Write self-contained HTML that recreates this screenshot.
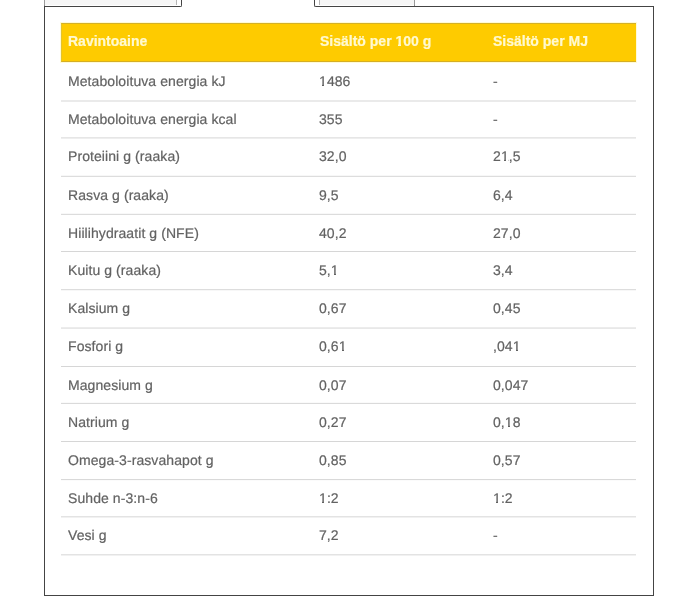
<!DOCTYPE html>
<html><head><meta charset="utf-8">
<style>
html,body{margin:0;padding:0;background:#fff;width:696px;height:600px;overflow:hidden;}
body{position:relative;font-family:"Liberation Sans",sans-serif;}
.abs{position:absolute;}
.panel{position:absolute;left:44px;top:6px;width:610px;height:590px;border:1px solid #444;box-sizing:border-box;background:#fff;border-top:none;}
.tabA{position:absolute;left:44px;top:0;width:138px;height:7px;background:#fff;border-right:1px solid #444;border-bottom:1px solid #444;box-sizing:border-box;border-bottom-right-radius:2px;}
.tabA .f{position:absolute;left:0;top:0;width:133px;height:5px;background:#f6f6f6;border-left:1px solid #9a9a9a;border-right:1px solid #b5b5b5;box-sizing:border-box;}
.gap{position:absolute;left:181px;top:0;width:134px;height:8px;background:#fff;}
.tabC{position:absolute;left:314px;top:0;width:101px;height:7px;background:#fff;border-left:1px solid #444;border-bottom:1px solid #444;box-sizing:border-box;border-bottom-left-radius:2px;}
.tabC .f{position:absolute;left:4px;top:0;width:96px;height:5px;background:#f6f6f6;border-left:1px solid #b5b5b5;border-right:1px solid #9a9a9a;box-sizing:border-box;}
.topln{position:absolute;top:6px;height:1px;background:#444;}
.hdr{position:absolute;left:61px;top:23px;width:575px;height:39px;background:#fecb00;border-top:1px solid #d3b02a;border-bottom:1px solid #d6ae24;border-left:1px solid #e4c22e;box-sizing:border-box;box-shadow:0 0 0 1px #fffbd6;}
.hdr span{margin-top:-1px;will-change:transform;-webkit-text-stroke:0.2px #fff9d0;}
.hdr span{position:absolute;top:0;line-height:37px;font-size:14px;font-weight:bold;color:#fff9d0;}
.ln{position:absolute;left:61px;width:575px;height:1px;background:#dedede;}
.tx{position:absolute;left:61px;width:575px;height:20px;will-change:transform;text-rendering:geometricPrecision;-webkit-text-stroke:0.2px #626262;}
.tx span{position:absolute;top:0;line-height:20px;font-size:14px;color:#626262;white-space:nowrap;letter-spacing:0.08px;}
.one{font-style:normal;position:relative;display:inline-block;}
.one::before,.one::after{content:'';position:absolute;top:13px;height:2px;background:#fff;}
.one::before{left:0;width:3px}.one::after{left:5px;width:2.6px}
.oneh{font-style:normal;position:relative;display:inline-block;}
.oneh::before,.oneh::after{content:'';position:absolute;top:21px;height:3px;background:#fecb00;}
.oneh::before{left:0;width:3px}.oneh::after{left:6px;width:3px}
.c1{left:7px}.c2{left:258px}.c3{left:432px}
</style></head><body>
<div class="panel"></div>
<div class="tabA"><div class="f"></div></div>
<div class="tabC"><div class="f"></div></div>
<div class="topln" style="left:316px;width:337px"></div>
<div class="abs" style="left:44px;top:5px;width:1px;height:1px;background:#8a8a8a"></div>
<div class="abs" style="left:414px;top:5px;width:1px;height:1px;background:#8a8a8a"></div>
<div class="hdr"><span class="c1" style="margin-left:-1px">Ravintoaine</span><span class="c2">Sisältö per <i class="oneh">1</i>00 g</span><span class="c3" style="margin-left:-1px">Sisältö per MJ</span></div>
<div class="ln" style="top:100px;background:rgb(234,234,234)"></div>
<div class="ln" style="top:101px;background:rgb(234,234,234)"></div>
<div class="tx" style="top:71px"><span class="c1">Metaboloituva energia kJ</span><span class="c2"><i class="one">1</i>486</span><span class="c3">-</span></div>
<div class="ln" style="top:137px;background:rgb(230,230,230)"></div>
<div class="ln" style="top:138px;background:rgb(238,238,238)"></div>
<div class="tx" style="top:109px"><span class="c1">Metaboloituva energia kcal</span><span class="c2">355</span><span class="c3">-</span></div>
<div class="ln" style="top:175px;background:rgb(247,247,247)"></div>
<div class="ln" style="top:176px;background:rgb(221,221,221)"></div>
<div class="tx" style="top:146px"><span class="c1">Proteiini g (raaka)</span><span class="c2">32,0</span><span class="c3">2<i class="one">1</i>,5</span></div>
<div class="ln" style="top:213px;background:rgb(248,248,248)"></div>
<div class="ln" style="top:214px;background:rgb(220,220,220)"></div>
<div class="tx" style="top:185px"><span class="c1">Rasva g (raaka)</span><span class="c2">9,5</span><span class="c3">6,4</span></div>
<div class="ln" style="top:251px;background:rgb(214,214,214)"></div>
<div class="tx" style="top:223px"><span class="c1">Hiilihydraatit g (NFE)</span><span class="c2">40,2</span><span class="c3">27,0</span></div>
<div class="ln" style="top:289px;background:rgb(221,221,221)"></div>
<div class="ln" style="top:290px;background:rgb(247,247,247)"></div>
<div class="tx" style="top:260px"><span class="c1">Kuitu g (raaka)</span><span class="c2">5,<i class="one">1</i></span><span class="c3">3,4</span></div>
<div class="ln" style="top:327px;background:rgb(236,236,236)"></div>
<div class="ln" style="top:328px;background:rgb(232,232,232)"></div>
<div class="tx" style="top:298px"><span class="c1">Kalsium g</span><span class="c2">0,67</span><span class="c3">0,45</span></div>
<div class="ln" style="top:366px;background:rgb(214,214,214)"></div>
<div class="tx" style="top:336px"><span class="c1">Fosfori g</span><span class="c2">0,6<i class="one">1</i></span><span class="c3">,04<i class="one">1</i></span></div>
<div class="ln" style="top:402px;background:rgb(250,250,250)"></div>
<div class="ln" style="top:403px;background:rgb(218,218,218)"></div>
<div class="tx" style="top:375px"><span class="c1">Magnesium g</span><span class="c2">0,07</span><span class="c3">0,047</span></div>
<div class="ln" style="top:441px;background:rgb(214,214,214)"></div>
<div class="tx" style="top:412px"><span class="c1">Natrium g</span><span class="c2">0,27</span><span class="c3">0,<i class="one">1</i>8</span></div>
<div class="ln" style="top:479px;background:rgb(217,217,217)"></div>
<div class="ln" style="top:480px;background:rgb(251,251,251)"></div>
<div class="tx" style="top:450px"><span class="c1">Omega-3-rasvahapot g</span><span class="c2">0,85</span><span class="c3">0,57</span></div>
<div class="ln" style="top:516px;background:rgb(227,227,227)"></div>
<div class="ln" style="top:517px;background:rgb(241,241,241)"></div>
<div class="tx" style="top:488px"><span class="c1">Suhde n-3:n-6</span><span class="c2"><i class="one">1</i>:2</span><span class="c3"><i class="one">1</i>:2</span></div>
<div class="ln" style="top:554px;background:rgb(227,227,227)"></div>
<div class="ln" style="top:555px;background:rgb(241,241,241)"></div>
<div class="tx" style="top:525px"><span class="c1">Vesi g</span><span class="c2">7,2</span><span class="c3">-</span></div>
</body></html>
